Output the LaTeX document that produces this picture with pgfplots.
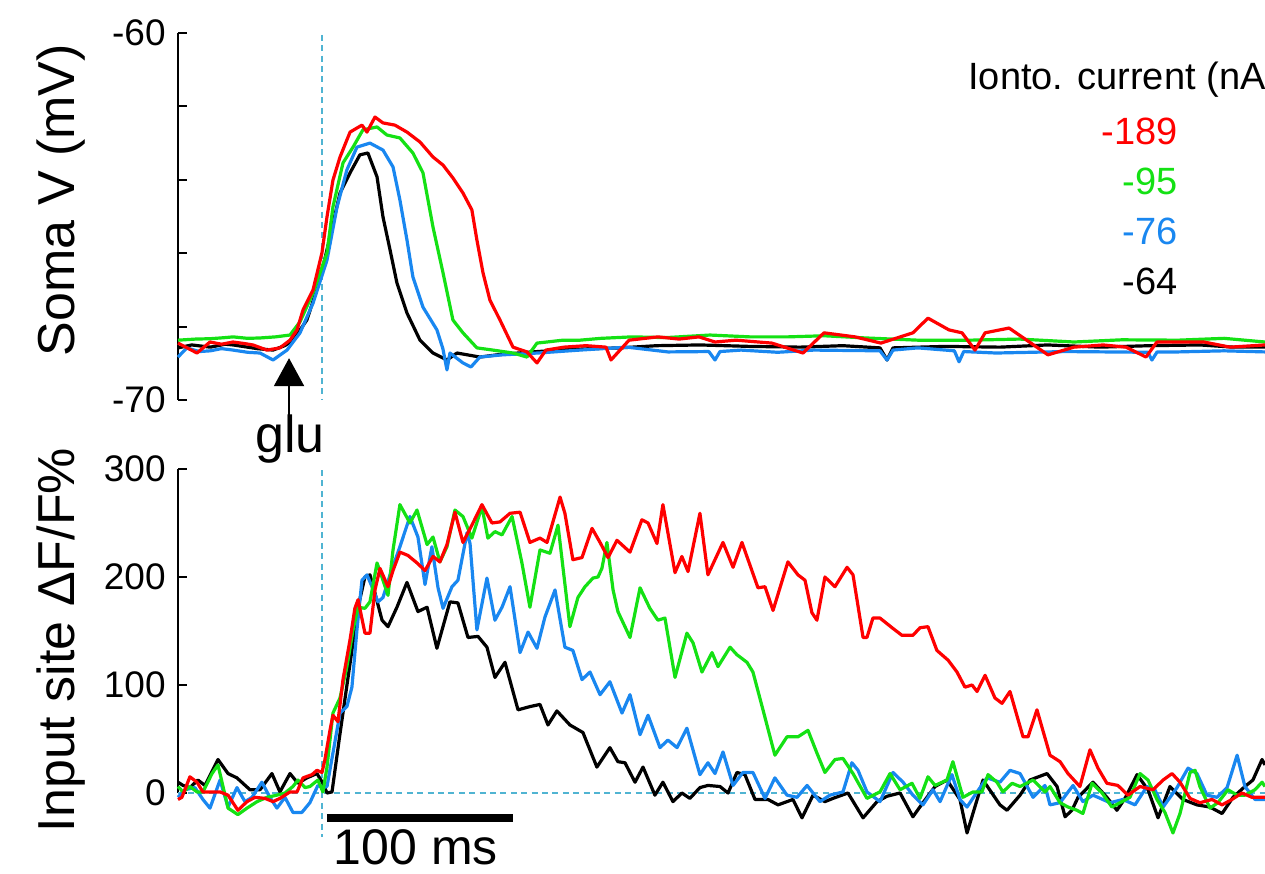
\documentclass[border=0pt]{standalone}
\usepackage{fontspec}
\setmainfont{Liberation Sans}
\usepackage{pgfplots}
\pgfplotsset{compat=1.18}
\usetikzlibrary{arrows.meta}
\definecolor{tr}{RGB}{255,0,0}
\definecolor{tg}{RGB}{20,225,20}
\definecolor{tb}{RGB}{25,135,240}
\definecolor{dc}{RGB}{80,180,210}
\newcommand\fTick{\fontsize{18.5bp}{22bp}\selectfont}
\newcommand\fLab{\fontsize{26bp}{30bp}\selectfont}
\newcommand\fBar{\fontsize{25bp}{28bp}\selectfont}
\newcommand\fLeg{\fontsize{19bp}{22bp}\selectfont}
\pgfplotsset{
  trace/.style={line width=1.6bp, line join=round},
  panel/.style={scale only axis, width=543.5bp, xmin=-77.4, xmax=507,
    axis x line=none, axis y line*=left,
    y axis line style={line width=1.3bp,-},
    tick align=inside, major tick length=4.5bp, minor tick length=4.5bp,
    tick style={line width=1bp, black},
    yticklabel style={font=\fTick, inner sep=0pt, xshift=-6bp},
    clip=false}
}
\begin{document}
\begin{tikzpicture}
\path[use as bounding box] (0,0) rectangle (632.5bp,437bp);
% ---------------- top panel ----------------
\begin{axis}[panel, at={(89bp,237bp)}, anchor=south west, height=183.5bp,
  ymin=-70, ymax=-60, ytick={-70,-60}, yticklabels={-70,-60},
  minor ytick={-68,-66,-64,-62}]
\draw[dc, line width=0.75bp, dash pattern=on 3bp off 2.2bp] (axis cs:0,-60.05) -- (axis cs:0,-70);
\addplot[trace, black] table {
-77.4 -68.58
-70 -68.50
-60 -68.56
-52 -68.48
-47.8 -68.50
-40 -68.56
-35 -68.60
-26.3 -68.64
-20 -68.52
-15.6 -68.37
-8.1 -67.82
-1.1 -66.73
4.3 -65.56
9.7 -64.36
15.1 -63.81
20.4 -63.32
24.7 -63.27
29.6 -63.92
32.8 -65.01
36.6 -65.91
40.3 -66.81
45.7 -67.63
52.7 -68.37
59.7 -68.72
67.2 -68.91
72.6 -68.72
84.9 -68.83
94.1 -68.77
110 -68.70
128.0 -68.64
145 -68.60
160.2 -68.58
180 -68.52
203.2 -68.50
230 -68.54
257.0 -68.56
280 -68.52
300 -68.58
303.8 -68.91
307 -68.58
335 -68.54
364.5 -68.56
390 -68.50
418.3 -68.56
445 -68.52
472.0 -68.50
490 -68.56
507.0 -68.56
};
\addplot[trace, tb] table {
-77.4 -68.83
-72.6 -68.58
-66 -68.68
-60 -68.66
-54 -68.60
-47.8 -68.64
-40 -68.70
-33.3 -68.72
-26.3 -68.91
-18.8 -68.64
-11.8 -68.17
-4.8 -67.36
2.7 -66.19
8.1 -64.74
13.4 -63.73
18.8 -63.11
25.8 -63.00
32.8 -63.19
38.2 -63.65
41.9 -64.55
45.7 -65.64
48.9 -66.65
54.3 -67.47
61.8 -68.09
65.0 -68.60
67.2 -69.18
68.8 -68.72
75.8 -68.99
80.1 -69.10
84.9 -68.83
96.8 -68.77
116.1 -68.72
138.7 -68.64
164.0 -68.56
186.0 -68.69
208 -68.68
211.3 -68.91
214 -68.68
225.3 -68.64
245 -68.70
264.5 -68.64
300 -68.66
303.8 -68.91
307 -68.64
320.4 -68.58
340 -68.66
342.5 -68.96
345 -68.68
362.4 -68.72
400 -68.68
444 -68.70
446.2 -68.91
449 -68.69
460.2 -68.69
485 -68.66
507.0 -68.69
};
\addplot[trace, tg] table {
-77.4 -68.37
-68 -68.34
-60 -68.33
-52 -68.30
-47.8 -68.28
-40 -68.32
-33.3 -68.31
-25 -68.28
-17.2 -68.23
-11.8 -67.87
-4.8 -67.08
2.7 -65.99
5.9 -64.74
11.3 -63.54
16.7 -63.11
22.0 -62.64
29.6 -62.56
34.9 -62.78
41.9 -62.86
48.9 -63.27
54.3 -63.81
59.7 -65.29
65.1 -66.54
70.4 -67.82
75.8 -68.17
83.3 -68.58
91.9 -68.64
102.7 -68.72
110.2 -68.83
115.6 -68.45
129.6 -68.37
138.7 -68.37
150 -68.32
166.7 -68.28
185 -68.30
208.6 -68.23
230 -68.28
250.5 -68.28
270 -68.25
292.5 -68.31
320.4 -68.37
348.4 -68.37
375 -68.34
404.3 -68.42
430 -68.36
460.2 -68.37
485 -68.32
507.0 -68.42
};
\addplot[trace, tr] table {
-77.4 -68.45
-67.2 -68.72
-60.2 -68.42
-54 -68.48
-47.8 -68.42
-42 -68.46
-37.1 -68.50
-29.6 -68.64
-22.6 -68.58
-17.2 -68.37
-13.4 -68.09
-10.2 -67.55
-4.8 -67.00
0 -65.99
2.7 -65.01
5.9 -64.01
9.7 -63.38
15.1 -62.70
21.5 -62.51
24.2 -62.70
28.5 -62.29
32.8 -62.45
39.2 -62.51
45.7 -62.70
52.7 -62.97
59.7 -63.38
65.1 -63.60
70.4 -63.95
75.8 -64.36
80.6 -64.82
83.3 -65.64
86.6 -66.54
90.3 -67.28
95.7 -67.82
102.7 -68.56
110.2 -68.69
115.6 -68.99
120.4 -68.64
130.1 -68.56
142 -68.52
152.7 -68.56
155.4 -68.91
165.1 -68.37
180.6 -68.28
192 -68.34
202.7 -68.28
211.3 -68.42
222.6 -68.37
241.9 -68.45
258.6 -68.72
269.9 -68.17
286.6 -68.28
300.5 -68.45
317.7 -68.17
325.8 -67.77
337.1 -68.09
344.1 -68.17
351.1 -68.64
356.5 -68.17
369.4 -68.04
376.3 -68.28
390.3 -68.77
404.3 -68.56
420 -68.50
432.3 -68.56
443.0 -68.83
448.9 -68.42
474.2 -68.42
488.2 -68.56
507.0 -68.50
};
\draw[line width=1bp, -{Triangle[width=15bp,length=14bp]}] (axis cs:-17.7,-70.68) -- (axis cs:-17.7,-68.86);
\node[font=\fLab, anchor=base, inner sep=0pt] at (axis cs:-17.2,-71.42) {glu};
\end{axis}
% ---------------- bottom panel ----------------
\begin{axis}[panel, at={(89bp,40.5bp)}, anchor=south west, height=162bp,
  ymin=0, ymax=300, ytick={0,100,200,300}, yticklabels={0,100,200,300}]
\draw[dc, line width=0.75bp, dash pattern=on 3bp off 2.2bp] (axis cs:-77.4,0) -- (axis cs:507,0);
\draw[dc, line width=0.75bp, dash pattern=on 3bp off 2.2bp] (axis cs:0,299) -- (axis cs:0,-40.7);
\addplot[trace, black] table {
-77.4 10
-74.7 7
-71.0 5
-66.7 12
-62.9 7
-55.9 31
-50.5 18
-45.7 14
-38.7 3
-33.3 3
-26.9 18
-22.6 1
-17.2 18
-12.9 9
-8.1 14
-2.7 18
0.5 9
2.7 0
5.4 1
9.7 55
15.1 120
19.4 172
23.1 200
25.8 202
28.5 185
32.3 160
35.5 154
40.3 172
45.7 195
51.6 168
56.5 172
61.8 134
68.8 177
73.1 176
78.5 144
83.9 145
88.7 135
93.0 107
98.4 121
105.4 77
111.8 80
117.2 82
121.5 63
126.3 76
133.3 63
140.3 56
147.8 24
154.8 42
159.1 29
162.9 28
168.3 10
172.6 24
179.0 -2
183.3 10
188.7 -8
193.5 0
197.8 -5
203.2 5
207.5 7
214.0 6
218.3 0
223.1 19
227.4 17
232.8 -6
239.8 -6
245.2 -11
250.0 -8
253.2 -6
258.1 -23
264.0 -2
270.4 -8
274.7 -5
282.8 0
290.9 -23
298.4 -8
303.8 -3
310.8 0
317.7 -22
323.1 -9
329.6 6
336.0 12
343.0 -6
346.8 -37
355.4 12
364.5 -11
368.3 -16
375.3 -2
380.6 12
389.8 18
395.2 6
399.5 -22
403.2 -16
406.5 -4
414.5 10
422.0 -4
427.4 -16
431.7 -5
438.2 17
444.1 3
449.5 -23
455.9 6
462.9 -6
470.4 -11
477.4 -13
483.9 -19
489.8 -4
496.2 6
500.5 12
505.4 31
507.0 26
};
\addplot[trace, tb] table {
-77.4 -4
-73.7 3
-68.3 5
-64.0 -6
-60.2 -14
-54.8 12
-50.5 -13
-45.7 5
-41.4 -8
-37.6 -4
-32.3 10
-28.0 -4
-24.2 -14
-19.9 -4
-15.6 -18
-10.8 -18
-6.5 -9
-2.2 7
0.5 5
2.7 6
5.9 37
9.7 74
13.4 80
16.1 98
18.8 151
21.5 197
24.2 202
26.9 191
30.1 177
32.8 181
36.6 202
41.9 228
47.3 256
51.6 237
55.4 193
59.1 228
62.4 190
65.1 171
69.9 191
73.1 197
78.0 241
79.6 231
83.3 151
88.7 199
93.0 160
96.8 172
101.1 191
106.5 130
110.8 149
115.6 134
119.9 163
125.3 188
130.6 135
134.9 132
139.8 105
144.1 112
149.5 91
154.8 103
161.3 74
165.6 91
171.0 54
175.3 72
181.7 42
186.0 49
190.9 42
196.2 60
203.2 17
207.5 28
211.3 18
215.6 38
221.0 7
226.3 19
231.7 19
238.2 -5
243.5 14
250.0 -2
255.4 -4
260.8 7
267.7 -8
273.1 -2
280.1 1
284.9 28
288.2 21
293.0 1
300.0 -8
307.0 19
312.4 10
317.7 -2
323.1 -11
328.5 3
332.3 -8
338.7 17
343.0 -6
346.8 -13
352.2 1
357.5 14
364.5 10
369.9 21
375.3 18
382.3 -4
388.7 7
391.4 -11
396.8 -9
403.8 7
409.1 -8
414.5 -2
423.7 -9
430.6 -6
437.1 -11
443.5 6
447.8 3
452.2 -13
459.7 5
465.6 23
470.4 18
475.8 -2
481.2 -4
486.6 5
492.0 35
496.2 6
501.6 -6
507.0 -6
};
\addplot[trace, tg] table {
-77.4 6
-74.7 1
-71.0 6
-67.2 1
-64.0 1
-59.1 18
-55.9 26
-53.2 6
-50.5 -14
-45.2 -20
-40.3 -14
-34.9 -8
-29.6 -4
-24.2 -2
-19.9 0
-15.6 6
-12.9 12
-9.1 5
-6.5 6
-2.2 12
0.5 1
2.7 24
5.9 74
9.7 88
13.4 117
16.7 151
19.4 172
23.1 171
25.8 177
29.6 213
32.8 197
35.5 183
38.2 225
41.9 267
47.3 250
51.1 262
56.5 230
59.7 237
63.4 214
67.2 228
71.5 262
75.8 256
80.6 236
86.0 265
89.2 236
93.0 242
96.8 239
102.2 256
107.5 213
111.8 172
117.2 225
122.6 222
126.9 248
133.3 154
137.6 181
141.4 191
145.7 199
148.4 200
150.5 208
153.2 232
156.5 188
159.1 168
165.6 144
171.0 190
176.3 171
180.6 160
184.4 162
189.8 107
196.2 148
199.5 139
204.3 112
209.7 130
212.9 117
219.4 135
223.1 128
228.5 121
231.7 112
237.1 77
243.5 35
250.0 52
255.9 52
261.3 58
266.1 37
270.4 19
275.8 31
280.1 32
285.5 18
293.0 -5
300.0 1
305.4 18
310.8 3
317.2 9
321.5 -5
325.8 15
329.6 7
336.0 12
339.2 29
344.6 -4
350.0 1
354.8 1
358.1 17
362.9 10
366.1 1
371.0 9
375.3 6
382.3 12
388.7 1
391.4 6
396.8 -9
401.1 -13
405.9 -16
409.1 -19
414.0 9
419.4 0
424.7 -13
429.0 -9
434.4 -4
439.8 18
444.1 12
448.9 -6
453.2 -18
457.5 -37
461.3 -19
466.7 19
469.4 21
472.0 6
477.4 -14
481.7 -9
487.1 3
492.0 -2
496.2 -2
501.6 3
505.4 10
507.0 6
};
\addplot[trace, tr] table {
-77.4 -6
-75.3 -4
-71.0 15
-67.2 10
-64.0 1
-54.8 1
-50.5 -2
-45.2 -16
-40.3 -8
-36.0 -4
-30.6 -5
-26.3 -8
-22.6 -5
-17.2 1
-13.4 1
-10.2 14
-5.4 17
-2.7 21
0 19
1.6 31
4.3 58
5.9 72
8.6 66
11.3 105
15.1 142
17.7 171
19.4 179
23.1 148
25.8 148
28.5 188
31.2 208
35.5 191
38.2 206
41.9 223
46.2 220
51.1 213
55.4 206
59.7 219
63.4 214
67.2 230
71.5 260
75.8 232
80.6 248
86.0 267
91.4 250
95.7 251
101.1 259
106.5 260
111.8 232
117.2 236
121.0 232
128.0 274
130.6 259
134.9 216
139.8 218
145.2 245
149.5 232
153.8 218
158.6 234
165.6 223
172.0 253
175.3 250
180.1 231
183.3 267
189.8 204
193.5 219
196.8 205
203.2 259
207.5 202
215.6 232
221.0 209
225.8 232
234.4 190
238.2 191
242.5 169
250.5 214
255.9 202
259.7 197
263.4 167
266.1 160
270.4 200
275.8 191
282.3 209
285.5 202
290.9 144
293.0 144
296.2 162
300.0 162
306.5 153
311.8 146
317.7 146
321.5 153
325.8 154
330.6 132
336.6 123
341.4 112
345.7 98
349.5 100
352.2 94
356.5 109
361.8 88
365.6 83
369.9 94
376.9 52
379.6 52
384.4 77
391.4 35
396.8 29
401.1 18
407.5 6
412.9 40
417.2 23
422.0 9
427.9 7
433.3 -2
439.8 6
446.8 3
452.2 12
457.0 18
461.3 10
466.7 -5
472.0 -9
478.5 -6
483.9 -11
489.2 -6
494.6 0
500.0 -4
507.0 -4
};
\draw[line width=4bp] (axis cs:2.7,-23) -- (axis cs:102.7,-23);
\node[font=\fBar, anchor=base, inner sep=0pt] at (axis cs:50.5,-66.0) {100 ms};
\end{axis}
% ---------------- labels ----------------
\node[rotate=90, font=\fLab, inner sep=0pt] at (30.5bp,337bp) {Soma V (mV)};
\node[rotate=90, font=\fLab, inner sep=0pt] at (30.5bp,117bp) {Input site ΔF/F\%};
\node[font=\fLeg, anchor=base west, inner sep=0pt] at (484bp,392bp) {Ionto. current (nA};
\node[font=\fLeg, anchor=base east, inner sep=0pt, text=tr] at (589bp,364.5bp) {-189};
\node[font=\fLeg, anchor=base east, inner sep=0pt, text=tg] at (589bp,339.5bp) {-95};
\node[font=\fLeg, anchor=base east, inner sep=0pt, text=tb] at (589bp,314.5bp) {-76};
\node[font=\fLeg, anchor=base east, inner sep=0pt, text=black] at (589bp,289.5bp) {-64};
\end{tikzpicture}
\end{document}
